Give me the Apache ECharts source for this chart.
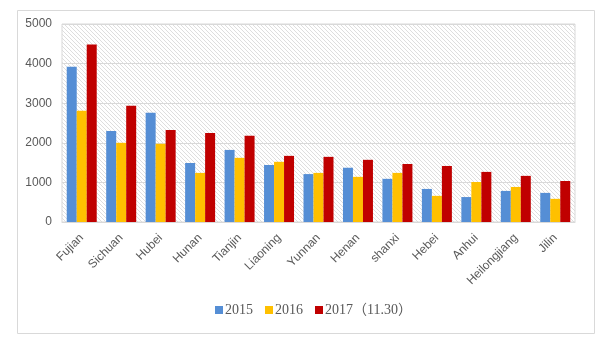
<!DOCTYPE html>
<html>
<head>
<meta charset="utf-8">
<script src="https://cdn.jsdelivr.net/npm/echarts@6/dist/echarts.min.js"></script>
<style>html,body{margin:0;padding:0;background:#fff;}#c{width:606px;height:350px;}</style>
</head>
<body>
<div id="c"></div>
<script>
var categories = ['Fujian','Sichuan','Hubei','Hunan','Tianjin','Liaoning','Yunnan','Henan','shanxi','Hebei','Anhui','Heilongjiang','Jilin'];
var seriesNames = ['2015','2016','2017（11.30）'];
var values2015 = [3920,2300,2760,1490,1820,1440,1210,1370,1090,835,630,785,735];
var values2016 = [2810,2000,1975,1240,1620,1520,1240,1140,1240,660,1010,885,585];
var values2017 = [4480,2935,2325,2250,2175,1670,1645,1570,1465,1415,1265,1165,1035];
var yTicks = [0,1000,2000,3000,4000,5000];

var tile = document.createElement('canvas');
tile.width = 4; tile.height = 4;
var tc = tile.getContext('2d');
tc.fillStyle = '#ffffff';
tc.fillRect(0,0,4,4);
tc.fillStyle = '#dedede';
for (var i = 0; i < 4; i++) { tc.fillRect(i, i, 1, 1); }

var chart = echarts.init(document.getElementById('c'));
var colors = ['#558ED5','#FFC000','#C00000'];
chart.setOption({
  animation: false,
  color: colors,
  graphic: [{
    type: 'rect', left: 15, top: 8, z: -10,
    shape: {width: 577, height: 323},
    style: {fill: 'none', stroke: '#d9d9d9', lineWidth: 1}
  }],
  grid: {
    left: 62, right: 31, top: 24, bottom: 128,
    show: true,
    backgroundColor: {image: tile, repeat: 'repeat'},
    borderColor: '#d9d9d9', borderWidth: 1
  },
  legend: {
    data: seriesNames,
    top: 298, left: 210,
    itemWidth: 8, itemHeight: 8, itemGap: 12,
    icon: 'rect',
    textStyle: {fontFamily: '"Liberation Serif","Noto Sans CJK SC"', fontSize: 14, color: '#595959', padding: [0,0,0,-3]}
  },
  xAxis: {
    type: 'category',
    data: categories,
    axisLine: {show: true, lineStyle: {color: '#d9d9d9'}},
    axisTick: {show: false},
    axisLabel: {rotate: 45, interval: 0, margin: 14, color: '#595959', fontSize: 12, fontFamily: '"Liberation Sans"'}
  },
  yAxis: {
    type: 'value',
    min: yTicks[0], max: yTicks[yTicks.length-1], interval: 1000,
    axisLine: {show: false},
    axisTick: {show: false},
    splitLine: {lineStyle: {color: '#d9d9d9', width: 1}},
    axisLabel: {color: '#595959', fontSize: 12, margin: 10, fontFamily: '"Liberation Sans"',
      formatter: function (v) { return String(v); }}
  },
  series: [
    {name: seriesNames[0], type: 'bar', data: values2015, barGap: '0%', barCategoryGap: '24%'},
    {name: seriesNames[1], type: 'bar', data: values2016, barGap: '0%', barCategoryGap: '24%'},
    {name: seriesNames[2], type: 'bar', data: values2017, barGap: '0%', barCategoryGap: '24%'}
  ]
});
</script>
</body>
</html>
